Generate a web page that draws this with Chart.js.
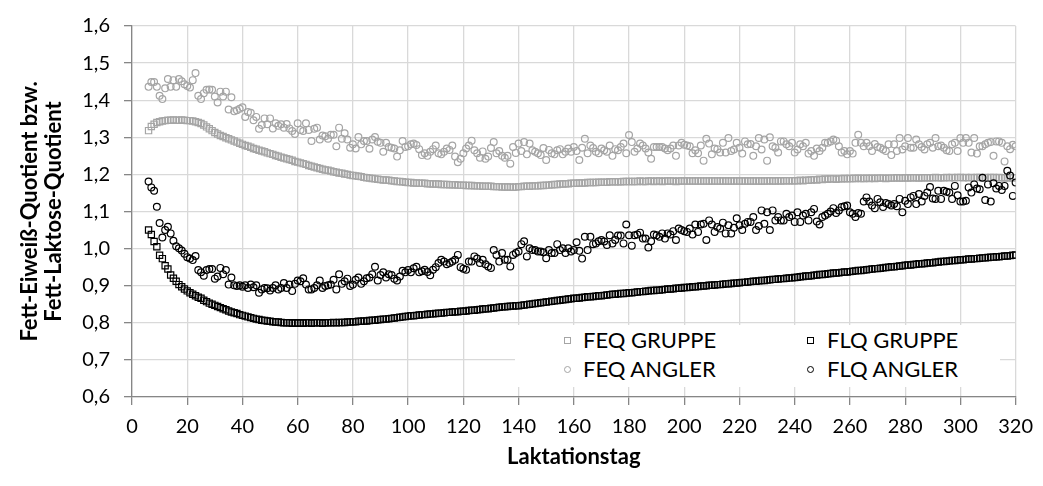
<!DOCTYPE html>
<html>
<head>
<meta charset="utf-8">
<script src="https://cdn.jsdelivr.net/npm/chart.js@4.4.1/dist/chart.umd.min.js"></script>
<style>
  body { margin: 0; background: #fff; }
  #wrap { position: relative; width: 1043px; height: 486px; }
  #legend { position: absolute; left: 515px; top: 325px; width: 485px; height: 62px; background: #fff;
            font-family: Lato, sans-serif; font-size: 22px; color: #000; }
  .mark { position: absolute; width: 5px; height: 5px; border: 1px solid #A5A5A5; }
  .mark.black { border-color: #000; }
  .mark.round { border-radius: 50%; }
  .lbl { position: absolute; line-height: 24px; white-space: nowrap; }
</style>
</head>
<body>
<div id="wrap">
  <canvas id="myChart" width="1043" height="486"></canvas>
  <div id="legend">
    <div class="mark" style="left:49px; top:12px;"></div>
    <div class="lbl" style="left:68px; top:3px;">FEQ GRUPPE</div>
    <div class="mark black" style="left:292px; top:12px;"></div>
    <div class="lbl" style="left:312px; top:3px;">FLQ GRUPPE</div>
    <div class="mark round" style="left:49px; top:41px;"></div>
    <div class="lbl" style="left:68px; top:32px;">FEQ ANGLER</div>
    <div class="mark black round" style="left:292px; top:41px;"></div>
    <div class="lbl" style="left:312px; top:32px;">FLQ ANGLER</div>
  </div>
</div>
<script>
// Laktationstage 6 bis 320
const days = Array.from({length: 315}, (_, i) => i + 6);

const feqGruppe = [
  1.318, 1.329, 1.335, 1.340, 1.342, 1.344, 1.345, 1.346, 1.346, 1.347,
  1.346, 1.346, 1.347, 1.346, 1.345, 1.345, 1.344, 1.342, 1.340, 1.337,
  1.333, 1.328, 1.323, 1.318, 1.313, 1.309, 1.305, 1.302, 1.299, 1.296,
  1.293, 1.290, 1.287, 1.284, 1.281, 1.278, 1.276, 1.273, 1.270, 1.268,
  1.265, 1.263, 1.261, 1.258, 1.256, 1.254, 1.251, 1.249, 1.246, 1.244,
  1.242, 1.240, 1.238, 1.235, 1.233, 1.231, 1.229, 1.227, 1.224, 1.222,
  1.220, 1.218, 1.216, 1.214, 1.212, 1.211, 1.209, 1.207, 1.206, 1.204,
  1.203, 1.201, 1.200, 1.198, 1.197, 1.196, 1.195, 1.194, 1.192, 1.191,
  1.190, 1.189, 1.188, 1.187, 1.186, 1.185, 1.185, 1.184, 1.183, 1.182,
  1.181, 1.181, 1.180, 1.179, 1.178, 1.178, 1.177, 1.177, 1.176, 1.176,
  1.176, 1.175, 1.175, 1.174, 1.174, 1.174, 1.173, 1.173, 1.173, 1.172,
  1.172, 1.172, 1.171, 1.171, 1.171, 1.170, 1.170, 1.170, 1.169, 1.169,
  1.169, 1.168, 1.168, 1.168, 1.168, 1.167, 1.167, 1.167, 1.166, 1.166,
  1.166, 1.166, 1.165, 1.166, 1.167, 1.167, 1.168, 1.168, 1.168, 1.169,
  1.169, 1.169, 1.170, 1.170, 1.171, 1.171, 1.172, 1.173, 1.173, 1.174,
  1.174, 1.175, 1.175, 1.176, 1.176, 1.176, 1.177, 1.177, 1.177, 1.178,
  1.178, 1.178, 1.178, 1.179, 1.179, 1.179, 1.179, 1.180, 1.180, 1.180,
  1.180, 1.180, 1.181, 1.181, 1.181, 1.181, 1.181, 1.181, 1.182, 1.181,
  1.181, 1.182, 1.182, 1.181, 1.182, 1.182, 1.181, 1.182, 1.182, 1.182,
  1.182, 1.181, 1.182, 1.182, 1.182, 1.182, 1.182, 1.182, 1.182, 1.182,
  1.182, 1.182, 1.182, 1.182, 1.182, 1.182, 1.182, 1.182, 1.182, 1.182,
  1.182, 1.182, 1.182, 1.182, 1.182, 1.182, 1.182, 1.182, 1.182, 1.182,
  1.182, 1.182, 1.182, 1.182, 1.182, 1.183, 1.182, 1.182, 1.183, 1.182,
  1.183, 1.183, 1.183, 1.183, 1.183, 1.183, 1.184, 1.183, 1.184, 1.184,
  1.185, 1.186, 1.185, 1.187, 1.186, 1.188, 1.187, 1.188, 1.188, 1.187,
  1.188, 1.188, 1.189, 1.188, 1.189, 1.189, 1.189, 1.190, 1.189, 1.189,
  1.190, 1.189, 1.190, 1.189, 1.190, 1.190, 1.190, 1.189, 1.190, 1.190,
  1.190, 1.191, 1.190, 1.190, 1.191, 1.190, 1.191, 1.191, 1.191, 1.190,
  1.191, 1.191, 1.191, 1.191, 1.191, 1.192, 1.191, 1.191, 1.191, 1.192,
  1.191, 1.192, 1.191, 1.192, 1.192, 1.191, 1.192, 1.191, 1.192, 1.191,
  1.192, 1.192, 1.191, 1.192, 1.191, 1.192, 1.192, 1.191, 1.192, 1.191,
  1.191, 1.191, 1.191, 1.191, 1.191
];

const flqGruppe = [
  1.050, 1.038, 1.019, 1.005, 0.982, 0.973, 0.954, 0.945, 0.929, 0.920,
  0.912, 0.903, 0.897, 0.891, 0.886, 0.881, 0.877, 0.873, 0.869, 0.866,
  0.861, 0.857, 0.853, 0.850, 0.847, 0.844, 0.841, 0.838, 0.835, 0.832,
  0.829, 0.827, 0.825, 0.822, 0.820, 0.818, 0.816, 0.814, 0.812, 0.810,
  0.809, 0.807, 0.806, 0.805, 0.804, 0.803, 0.802, 0.802, 0.801, 0.800,
  0.800, 0.800, 0.799, 0.800, 0.799, 0.800, 0.799, 0.800, 0.800, 0.799,
  0.800, 0.800, 0.800, 0.799, 0.800, 0.800, 0.800, 0.801, 0.800, 0.801,
  0.801, 0.801, 0.802, 0.802, 0.803, 0.803, 0.804, 0.804, 0.805, 0.805,
  0.806, 0.807, 0.807, 0.808, 0.809, 0.810, 0.810, 0.811, 0.812, 0.813,
  0.814, 0.815, 0.816, 0.817, 0.818, 0.819, 0.819, 0.820, 0.821, 0.822,
  0.822, 0.823, 0.824, 0.824, 0.825, 0.826, 0.826, 0.827, 0.828, 0.828,
  0.829, 0.830, 0.830, 0.831, 0.831, 0.832, 0.833, 0.834, 0.834, 0.835,
  0.836, 0.837, 0.838, 0.838, 0.839, 0.840, 0.841, 0.842, 0.843, 0.843,
  0.844, 0.845, 0.845, 0.846, 0.846, 0.847, 0.848, 0.849, 0.850, 0.851,
  0.852, 0.853, 0.854, 0.855, 0.856, 0.857, 0.858, 0.859, 0.860, 0.861,
  0.862, 0.863, 0.864, 0.865, 0.866, 0.866, 0.867, 0.868, 0.869, 0.870,
  0.870, 0.871, 0.872, 0.873, 0.873, 0.874, 0.875, 0.876, 0.877, 0.877,
  0.878, 0.879, 0.879, 0.880, 0.881, 0.881, 0.882, 0.883, 0.884, 0.884,
  0.885, 0.886, 0.887, 0.887, 0.888, 0.888, 0.889, 0.890, 0.891, 0.891,
  0.892, 0.893, 0.893, 0.894, 0.895, 0.895, 0.896, 0.897, 0.897, 0.898,
  0.899, 0.899, 0.900, 0.901, 0.901, 0.902, 0.903, 0.903, 0.904, 0.905,
  0.905, 0.906, 0.907, 0.907, 0.908, 0.909, 0.909, 0.910, 0.911, 0.912,
  0.912, 0.913, 0.914, 0.914, 0.915, 0.916, 0.917, 0.917, 0.918, 0.919,
  0.919, 0.920, 0.921, 0.921, 0.922, 0.923, 0.924, 0.925, 0.926, 0.926,
  0.927, 0.928, 0.929, 0.930, 0.930, 0.931, 0.932, 0.933, 0.934, 0.934,
  0.935, 0.936, 0.937, 0.937, 0.938, 0.939, 0.940, 0.941, 0.941, 0.942,
  0.943, 0.944, 0.945, 0.946, 0.946, 0.947, 0.948, 0.949, 0.950, 0.951,
  0.951, 0.952, 0.953, 0.954, 0.955, 0.956, 0.956, 0.957, 0.958, 0.959,
  0.959, 0.960, 0.961, 0.962, 0.962, 0.963, 0.964, 0.965, 0.965, 0.966,
  0.967, 0.968, 0.968, 0.969, 0.970, 0.970, 0.971, 0.972, 0.972, 0.973,
  0.973, 0.974, 0.975, 0.975, 0.976, 0.977, 0.977, 0.978, 0.978, 0.979,
  0.980, 0.980, 0.981, 0.982, 0.983
];

const feqAngler = [
  1.436, 1.449, 1.449, 1.436, 1.412, 1.403, 1.432, 1.457, 1.436, 1.454,
  1.436, 1.457, 1.451, 1.443, 1.438, 1.434, 1.454, 1.473, 1.412, 1.403,
  1.419, 1.428, 1.429, 1.428, 1.410, 1.394, 1.423, 1.410, 1.423, 1.375,
  1.408, 1.370, 1.373, 1.377, 1.381, 1.355, 1.368, 1.366, 1.346, 1.355,
  1.323, 1.333, 1.351, 1.335, 1.351, 1.324, 1.338, 1.331, 1.335, 1.326,
  1.336, 1.324, 1.317, 1.309, 1.338, 1.320, 1.317, 1.338, 1.320, 1.290,
  1.323, 1.326, 1.294, 1.305, 1.303, 1.296, 1.307, 1.307, 1.276, 1.326,
  1.296, 1.311, 1.294, 1.272, 1.281, 1.270, 1.301, 1.281, 1.290, 1.290,
  1.269, 1.294, 1.301, 1.288, 1.285, 1.261, 1.285, 1.274, 1.272, 1.270,
  1.248, 1.265, 1.290, 1.274, 1.276, 1.281, 1.283, 1.279, 1.268,
  1.252, 1.257, 1.250, 1.261, 1.268, 1.278, 1.257, 1.254, 1.261, 1.270,
  1.266, 1.278, 1.248, 1.233, 1.242, 1.257, 1.270, 1.278, 1.291, 1.265,
  1.257, 1.245, 1.262, 1.242, 1.248, 1.271, 1.287, 1.257, 1.263, 1.250,
  1.245, 1.250, 1.229, 1.274, 1.258, 1.283, 1.263, 1.287, 1.254, 1.283,
  1.265, 1.261, 1.257, 1.252, 1.271, 1.239, 1.266, 1.257, 1.254, 1.265,
  1.268, 1.254, 1.261, 1.270, 1.261, 1.274, 1.263, 1.239, 1.272, 1.296,
  1.257, 1.278, 1.271, 1.261, 1.257, 1.270, 1.265, 1.261, 1.278, 1.250,
  1.268, 1.265, 1.274, 1.283, 1.257, 1.306, 1.287, 1.261, 1.270, 1.283,
  1.278, 1.270, 1.259, 1.242, 1.274, 1.274, 1.274, 1.274, 1.270, 1.265,
  1.270, 1.278, 1.250, 1.278, 1.285, 1.280, 1.278, 1.276, 1.257, 1.265,
  1.257, 1.278, 1.237, 1.296, 1.283, 1.254, 1.270, 1.268,
  1.259, 1.285, 1.259, 1.298, 1.263, 1.267, 1.285, 1.272, 1.256, 1.289,
  1.281, 1.282, 1.250, 1.276, 1.298, 1.267, 1.294, 1.237, 1.300, 1.276,
  1.272, 1.259, 1.289, 1.289, 1.281, 1.276, 1.285, 1.259, 1.267, 1.281,
  1.276, 1.285, 1.256, 1.263, 1.250, 1.270, 1.263, 1.272, 1.285, 1.285,
  1.289, 1.294, 1.291, 1.276, 1.259, 1.263, 1.254, 1.263, 1.256, 1.285,
  1.307, 1.285, 1.276, 1.285, 1.276, 1.263, 1.282, 1.274, 1.272, 1.267,
  1.263, 1.281, 1.252, 1.281, 1.263, 1.298, 1.267, 1.276, 1.298, 1.272,
  1.272, 1.294, 1.281, 1.274, 1.267, 1.281, 1.285, 1.272, 1.298, 1.276,
  1.278, 1.272, 1.265, 1.263, 1.281, 1.285, 1.263, 1.298, 1.285, 1.298,
  1.285, 1.259, 1.298, 1.256, 1.276, 1.276, 1.281, 1.285, 1.287, 1.250,
  1.289, 1.289, 1.285, 1.235, 1.276, 1.268, 1.280, 1.276
];

const flqAngler = [
  1.181, 1.165, 1.156, 1.113, 1.069, 1.030, 1.050, 1.059, 1.041, 1.021,
  1.006, 1.001, 0.995, 0.986, 0.977, 0.973, 0.969, 0.980, 0.942, 0.936,
  0.927, 0.942, 0.945, 0.945, 0.919, 0.925, 0.948, 0.931, 0.942, 0.903,
  0.922, 0.901, 0.899, 0.901, 0.897, 0.901, 0.894, 0.903, 0.896, 0.901,
  0.881, 0.890, 0.894, 0.893, 0.887, 0.894, 0.901, 0.890, 0.894, 0.907,
  0.894, 0.903, 0.886, 0.905, 0.914, 0.912, 0.920, 0.903, 0.890, 0.890,
  0.894, 0.901, 0.914, 0.894, 0.899, 0.901, 0.903, 0.916, 0.890, 0.931,
  0.905, 0.912, 0.919, 0.899, 0.903, 0.916, 0.922, 0.905, 0.912, 0.920,
  0.922, 0.931, 0.951, 0.914, 0.929, 0.936, 0.922, 0.931, 0.929, 0.919,
  0.914, 0.925, 0.940, 0.936, 0.942, 0.936, 0.947, 0.951, 0.936,
  0.939, 0.943, 0.937, 0.928, 0.943, 0.950, 0.961, 0.970, 0.965, 0.958,
  0.961, 0.965, 0.970, 0.983, 0.950, 0.946, 0.943, 0.965, 0.965, 0.979,
  0.973, 0.961, 0.970, 0.958, 0.952, 0.948, 0.996, 0.983, 0.965, 0.988,
  0.970, 0.970, 0.952, 0.983, 0.988, 0.992, 1.012, 1.020, 0.979, 1.001,
  0.996, 0.996, 0.992, 0.992, 0.990, 0.974, 0.996, 0.988, 0.988, 1.012,
  0.996, 1.001, 0.988, 1.001, 0.992, 0.996, 1.017, 0.994, 0.973, 1.032,
  0.996, 1.032, 1.012, 1.014, 1.020, 1.023, 1.019, 1.010, 1.036, 1.014,
  1.023, 1.035, 1.035, 1.014, 1.065, 1.036, 1.008, 1.036, 1.038, 1.043,
  1.027, 1.027, 1.003, 1.020, 1.038, 1.036, 1.032, 1.041, 1.027, 1.041,
  1.038, 1.047, 1.023, 1.054, 1.050, 1.047, 1.045, 1.054, 1.038, 1.065,
  1.045, 1.065, 1.067, 1.023, 1.076, 1.065, 1.045, 1.058, 1.054, 1.070,
  1.041, 1.063, 1.041, 1.056, 1.082, 1.063, 1.050, 1.067, 1.072, 1.072,
  1.085, 1.050, 1.061, 1.103, 1.067, 1.098, 1.050, 1.103, 1.076, 1.085,
  1.076, 1.076, 1.094, 1.085, 1.089, 1.072, 1.098, 1.072, 1.089, 1.094,
  1.076, 1.098, 1.107, 1.073, 1.065, 1.085, 1.089, 1.094, 1.100, 1.109,
  1.096, 1.103, 1.112, 1.114, 1.116, 1.098, 1.094, 1.085, 1.096, 1.094,
  1.127, 1.138, 1.127, 1.116, 1.109, 1.134, 1.125, 1.112, 1.123, 1.120,
  1.116, 1.120, 1.114, 1.134, 1.098, 1.129, 1.120, 1.138, 1.142, 1.120,
  1.147, 1.127, 1.142, 1.151, 1.166, 1.135, 1.134, 1.156, 1.134, 1.156,
  1.153, 1.151, 1.134, 1.169, 1.144, 1.127, 1.127, 1.129, 1.165, 1.151,
  1.173, 1.162, 1.160, 1.191, 1.131, 1.173, 1.127, 1.176, 1.162, 1.169,
  1.158, 1.169, 1.210, 1.197, 1.142, 1.178
];

const yTicks = ['0,6', '0,7', '0,8', '0,9', '1,0', '1,1', '1,2', '1,3', '1,4', '1,5', '1,6'];

const GRAY = '#A5A5A5';
const AXIS = '#868686';
const GRID = '#D9D9D9';

function points(values) {
  return values.map((v, i) => ({x: days[i], y: v}));
}

const PLOT_LEFT = 132, PLOT_BOTTOM = 397;

const myChart = new Chart('myChart', {
  type: 'scatter',
  data: {
    datasets: [{
      label: 'FEQ GRUPPE',
      data: points(feqGruppe),
      pointStyle: 'rect',
      pointRadius: 4.4,
      borderColor: GRAY,
      backgroundColor: 'rgba(0,0,0,0)',
      borderWidth: 1.2,
      order: 4
    }, {
      label: 'FLQ GRUPPE',
      data: points(flqGruppe),
      pointStyle: 'rect',
      pointRadius: 4.4,
      borderColor: '#000',
      backgroundColor: 'rgba(0,0,0,0)',
      borderWidth: 1.2,
      order: 3
    }, {
      label: 'FEQ ANGLER',
      data: points(feqAngler),
      pointStyle: 'circle',
      pointRadius: 3.4,
      borderColor: GRAY,
      backgroundColor: 'rgba(0,0,0,0)',
      borderWidth: 1.2,
      order: 2
    }, {
      label: 'FLQ ANGLER',
      data: points(flqAngler),
      pointStyle: 'circle',
      pointRadius: 3.4,
      borderColor: '#000',
      backgroundColor: 'rgba(0,0,0,0)',
      borderWidth: 1.2,
      order: 1
    }]
  },
  options: {
    responsive: false,
    animation: false,
    devicePixelRatio: 1,
    layout: { padding: { left: 4, right: 25, top: 19, bottom: 0 } },
    plugins: {
      legend: { display: false },
      tooltip: { enabled: false }
    },
    scales: {
      x: {
        type: 'linear',
        min: 0,
        max: 320,
        ticks: {
          stepSize: 20,
          autoSkip: false,
          maxRotation: 0,
          padding: 10,
          color: '#000',
          font: { family: 'Lato', size: 20 }
        },
        grid: { color: GRID, lineWidth: 1.3, tickColor: AXIS, tickLength: 8 },
        border: { color: AXIS, width: 1.3 },
        title: {
          display: true,
          text: 'Laktationstag',
          color: '#000',
          font: { family: 'Lato', size: 22, weight: 'bold' },
          padding: { top: 0, bottom: 16 }
        },
        afterFit: function(scale) { scale.height = 486 - PLOT_BOTTOM; }
      },
      y: {
        min: 0.6,
        max: 1.6,
        ticks: {
          stepSize: 0.1,
          padding: 14,
          color: '#000',
          font: { family: 'Lato', size: 20 },
          callback: function(value) {
            return yTicks[Math.round((value - 0.6) * 10)];
          }
        },
        grid: { color: GRID, lineWidth: 1.3, tickColor: AXIS, tickLength: 8 },
        border: { color: AXIS, width: 1.3 },
        title: {
          display: true,
          text: ['Fett-Eiweiß-Quotient bzw.', 'Fett-Laktose-Quotient'],
          color: '#000',
          font: { family: 'Lato', size: 22, weight: 'bold', lineHeight: 1.1 },
          padding: { top: 14, bottom: 0 }
        },
        afterFit: function(scale) { scale.width = PLOT_LEFT - 4; }
      }
    }
  }
});
</script>
</body>
</html>
